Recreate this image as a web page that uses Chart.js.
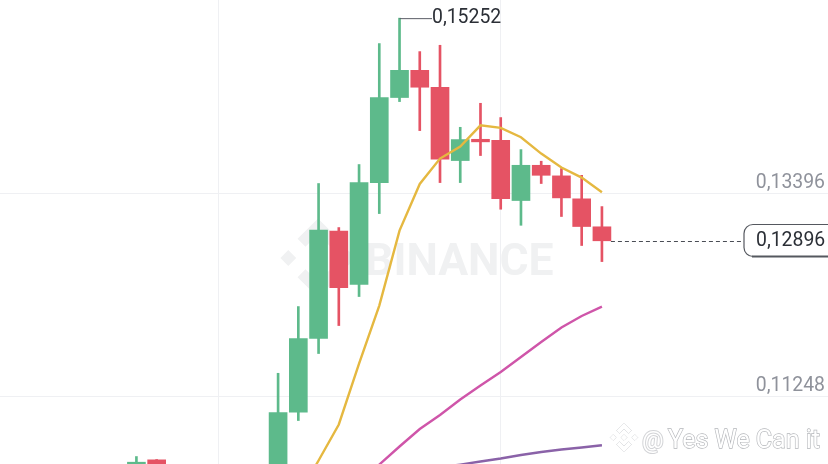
<!DOCTYPE html>
<html>
<head>
<meta charset="utf-8">
<style>
  html, body { margin: 0; padding: 0; background: #fff; }
  canvas { display: block; }
</style>
<script src="https://cdn.jsdelivr.net/npm/chart.js@4/dist/chart.umd.min.js"></script>
</head>
<body>
<canvas id="chart" width="828" height="464"></canvas>
<script>
// Candles, oldest first. Slots 2-6 sit below the visible window so they are left out.
const candleSlots = [0, 1, 7, 8, 9, 10, 11, 12, 13, 14, 15, 16, 17, 18, 19, 20, 21, 22, 23];
const opens = [0.10465, 0.10578, 0.10253, 0.11082, 0.11862, 0.12998, 0.12433, 0.13512, 0.14412, 0.14700, 0.14521, 0.13745, 0.13970, 0.13960, 0.13322, 0.13695, 0.13583, 0.13340, 0.13044];
const closes = [0.10553, 0.10465, 0.11079, 0.11862, 0.13010, 0.12401, 0.13512, 0.14412, 0.14700, 0.14521, 0.13759, 0.13967, 0.13943, 0.13343, 0.13695, 0.13589, 0.13350, 0.13047, 0.12896];
const highs = [0.10613, 0.10581, 0.11494, 0.12200, 0.13502, 0.13036, 0.13703, 0.14983, 0.15252, 0.14898, 0.14965, 0.14097, 0.14351, 0.14200, 0.13861, 0.13738, 0.13660, 0.13589, 0.13258];
const lows = [0.10444, 0.10433, 0.10200, 0.10994, 0.11703, 0.11999, 0.12306, 0.13184, 0.14369, 0.14062, 0.13512, 0.13512, 0.13798, 0.13230, 0.13060, 0.13502, 0.13153, 0.12846, 0.12676];

// Moving averages
const ma7Slots = [8, 9, 10, 11, 12, 13, 14, 15, 16, 17, 18, 19, 20, 21, 22, 23];
const ma7 = [0.10200, 0.10571, 0.10952, 0.11597, 0.12211, 0.13004, 0.13498, 0.13766, 0.13893, 0.14118, 0.14091, 0.13992, 0.13819, 0.13671, 0.13565, 0.13410];
const ma25Slots = [11, 12, 13, 14, 15, 16, 17, 18, 19, 20, 21, 22, 23];
const ma25 = [0.10327, 0.10528, 0.10719, 0.10904, 0.11052, 0.11216, 0.11364, 0.11507, 0.11666, 0.11825, 0.11978, 0.12100, 0.12200];
const ma99Slots = [15, 16, 17, 18, 19, 20, 21, 22, 23];
const ma99 = [0.10497, 0.10528, 0.10560, 0.10592, 0.10629, 0.10661, 0.10687, 0.10708, 0.10733];

const yTicks = [0.13396, 0.11248];
const xGridSlots = [4.05, 18];
const peakLabel = '0,15252';
const lastLabel = '0,12896';
const lastPrice = 0.12896;
const peakPrice = 0.15252;
const peakSlot = 13;
const lastSlot = 23;

const GREEN = '#5dba8b';
const RED = '#e55364';
const FONT = 'Roboto, sans-serif';

const fmt = v => v.toFixed(5).replace('.', ',');
const pairs = (xs, ys) => xs.map((x, i) => ({ x, y: ys[i] }));

const candleColors = candleSlots.map((_, i) => closes[i] >= opens[i] ? GREEN : RED);

// Binance mark: two side diamonds, a centre diamond and two chevrons
function drawLogo(ctx, cx, cy, s, paint) {
    const poly = pts => {
        ctx.beginPath();
        pts.forEach((p, i) => {
            if (i === 0) ctx.moveTo(cx + p[0] * s, cy + p[1] * s);
            else ctx.lineTo(cx + p[0] * s, cy + p[1] * s);
        });
        ctx.closePath();
        paint();
    };
    poly([[-9, -2.4], [-6.6, 0], [-9, 2.4], [-11.4, 0]]);
    poly([[9, -2.4], [11.4, 0], [9, 2.4], [6.6, 0]]);
    poly([[0, -2.4], [2.4, 0], [0, 2.4], [-2.4, 0]]);
    poly([[0, -12], [6.2, -5.8], [3.8, -3.4], [0, -7.2], [-3.8, -3.4], [-6.2, -5.8]]);
    poly([[0, 12], [6.2, 5.8], [3.8, 3.4], [0, 7.2], [-3.8, 3.4], [-6.2, 5.8]]);
}

// Watermarks go under the candles
const watermarkPlugin = {
    id: 'watermarks',
    beforeDatasetsDraw(chart) {
        const ctx = chart.ctx;
        ctx.save();
        ctx.fillStyle = '#f0f1f2';
        ctx.font = 'bold 44.5px ' + FONT;
        ctx.textBaseline = 'alphabetic';
        ctx.fillText('BINANCE', 365, 275);
        drawLogo(ctx, 318, 258, 3.3, () => ctx.fill());
        ctx.restore();
    }
};

// Axis labels, price callouts and the signature
const labelsPlugin = {
    id: 'labels',
    afterDraw(chart) {
        const ctx = chart.ctx;
        const x = chart.scales.x;
        const y = chart.scales.y;
        ctx.save();

        // price axis labels sit just above their grid lines
        ctx.font = '19.4px ' + FONT;
        ctx.fillStyle = '#8f929b';
        ctx.textAlign = 'right';
        ctx.textBaseline = 'alphabetic';
        yTicks.forEach(t => {
            ctx.fillText(fmt(t), 825, y.getPixelForValue(t) - 6);
        });

        // high of the window
        const peakX = x.getPixelForValue(peakSlot);
        const peakY = y.getPixelForValue(peakPrice);
        ctx.strokeStyle = '#5a5d66';
        ctx.lineWidth = 1;
        ctx.beginPath();
        ctx.moveTo(peakX, peakY + 0.5);
        ctx.lineTo(432, peakY + 0.5);
        ctx.stroke();
        ctx.fillStyle = '#2b2f36';
        ctx.textAlign = 'left';
        ctx.textBaseline = 'middle';
        ctx.fillText(peakLabel, 432, peakY);

        // last price line and its pill
        const lastY = Math.round(y.getPixelForValue(lastPrice)) + 0.5;
        ctx.setLineDash([4, 3]);
        ctx.strokeStyle = '#4a4d55';
        ctx.beginPath();
        ctx.moveTo(x.getPixelForValue(lastSlot) + 9, lastY);
        ctx.lineTo(744, lastY);
        ctx.stroke();
        ctx.setLineDash([]);
        ctx.fillStyle = '#fff';
        ctx.strokeStyle = '#55585f';
        ctx.lineWidth = 1.2;
        ctx.beginPath();
        ctx.roundRect(744, 224.5, 100, 32, 9);
        ctx.fill();
        ctx.stroke();
        ctx.lineWidth = 2;
        ctx.beginPath();
        ctx.moveTo(752, 256.5);
        ctx.lineTo(828, 256.5);
        ctx.stroke();
        ctx.fillStyle = '#2b2f36';
        ctx.fillText(lastLabel, 756, lastY);

        // signature: pale outlined text with a white inside
        ctx.fillStyle = '#fff';
        ctx.strokeStyle = '#cfd1d4';
        ctx.lineWidth = 1;
        drawLogo(ctx, 624, 437.5, 1.2, () => { ctx.stroke(); ctx.fill(); });
        ctx.textBaseline = 'alphabetic';
        ctx.font = '24px ' + FONT;
        ctx.lineWidth = 2;
        ctx.strokeStyle = '#d2d3d6';
        ctx.strokeText('@', 642, 448);
        ctx.fillText('@', 642, 448);
        ctx.font = '25px ' + FONT;
        ctx.lineWidth = 1.3;
        ctx.strokeStyle = '#b4b6ba';
        ctx.strokeText('Yes We Can it', 668, 448);
        ctx.fillText('Yes We Can it', 668, 448);

        ctx.restore();
    }
};

new Chart(document.getElementById('chart'), {
    data: {
        datasets: [
            {
                type: 'line',
                data: pairs(ma7Slots, ma7),
                borderColor: '#e5b840',
                borderWidth: 2.4,
                pointRadius: 0,
                tension: 0,
                order: 1
            },
            {
                type: 'line',
                data: pairs(ma25Slots, ma25),
                borderColor: '#cf55a9',
                borderWidth: 2.4,
                pointRadius: 0,
                tension: 0,
                order: 1
            },
            {
                type: 'line',
                data: pairs(ma99Slots, ma99),
                borderColor: '#8a62a8',
                borderWidth: 2.4,
                pointRadius: 0,
                tension: 0,
                order: 1
            },
            {
                type: 'bar',
                data: candleSlots.map((s, i) => ({ x: s, y: [opens[i], closes[i]] })),
                backgroundColor: candleColors,
                barThickness: 18,
                grouped: false,
                order: 2
            },
            {
                type: 'bar',
                data: candleSlots.map((s, i) => ({ x: s, y: [lows[i], highs[i]] })),
                backgroundColor: candleColors,
                barThickness: 2,
                grouped: false,
                order: 3
            }
        ]
    },
    options: {
        responsive: false,
        animation: false,
        layout: { padding: 0 },
        plugins: {
            legend: { display: false },
            tooltip: { enabled: false }
        },
        scales: {
            x: {
                type: 'linear',
                offset: false,
                min: -6.74,
                max: 34.17,
                afterBuildTicks: scale => { scale.ticks = xGridSlots.map(value => ({ value })); },
                ticks: { display: false },
                grid: { color: '#eff0f3', drawTicks: false, offset: false },
                border: { display: false }
            },
            y: {
                type: 'linear',
                position: 'right',
                min: 0.10534,
                max: 0.15444,
                afterBuildTicks: scale => { scale.ticks = yTicks.map(value => ({ value })); },
                ticks: { display: false },
                grid: { color: '#eff0f3', drawTicks: false },
                border: { display: false }
            }
        }
    },
    plugins: [watermarkPlugin, labelsPlugin]
});
</script>
</body>
</html>
